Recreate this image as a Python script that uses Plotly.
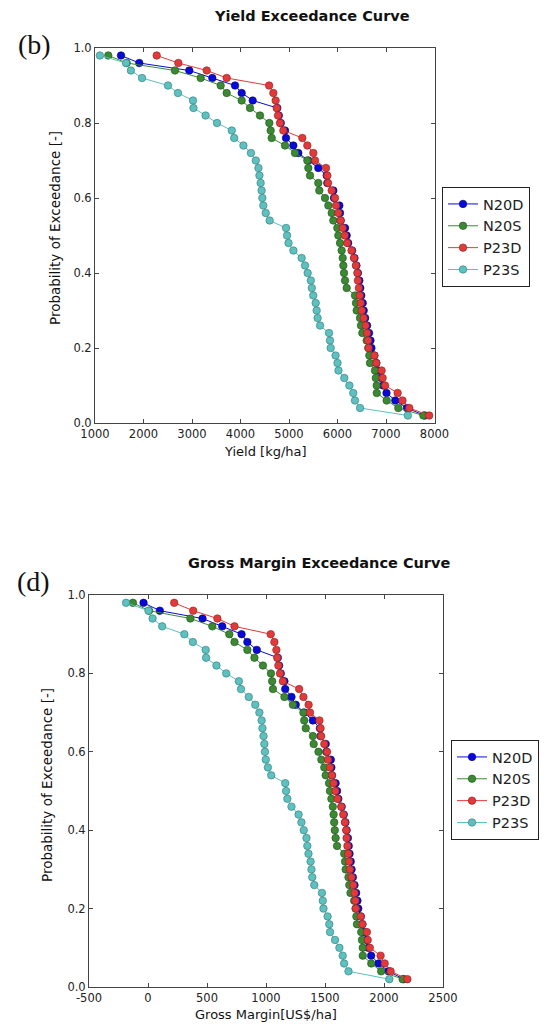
import plotly.graph_objects as go

# Probability of exceedance (0.98 -> 0.02)
prob = [round(0.98 - 0.02 * i, 2) for i in range(49)]

series_names = ["N20D", "N20S", "P23D", "P23S"]

yield_N20D = [1536, 1913, 2944, 3419, 3887, 4024, 4252, 4759, 4790, 4830,
              4918, 4938, 5089, 5192, 5398, 5604, 5777, 5790, 5914, 5928,
              6038, 6052, 6065, 6155, 6189, 6220, 6300, 6350, 6390, 6420,
              6450, 6470, 6490, 6520, 6540, 6570, 6610, 6650, 6680, 6700,
              6760, 6800, 6840, 6900, 6940, 7010, 7190, 7430, 7800]
yield_N20S = [1274, 1653, 2649, 3179, 3591, 3715, 4024, 4196, 4402, 4594,
              4622, 4643, 4918, 5124, 5378, 5398, 5433, 5604, 5625, 5742,
              5811, 5880, 5914, 5996, 6017, 6052, 6086, 6107, 6120, 6134,
              6155, 6189, 6361, 6381, 6395, 6464, 6485, 6512, 6601, 6635,
              6656, 6670, 6773, 6790, 6808, 6810, 7014, 7254, 7770]
yield_P23D = [2272, 2718, 3303, 3715, 4590, 4677, 4725, 4746, 4773, 4814,
              4883, 5275, 5378, 5502, 5536, 5763, 5790, 5804, 5880, 5948,
              5969, 6017, 6065, 6107, 6150, 6200, 6290, 6340, 6380, 6410,
              6420, 6440, 6460, 6480, 6500, 6540, 6580, 6610, 6630, 6640,
              6760, 6800, 6910, 6930, 6980, 7240, 7340, 7480, 7890]
yield_P23S = [1100, 1640, 1740, 1970, 2505, 2710, 3020, 3030, 3280, 3515,
              3820, 3870, 4060, 4215, 4315, 4370, 4390, 4415, 4435, 4450,
              4470, 4520, 4600, 4940, 4960, 4990, 5090, 5260, 5330, 5385,
              5450, 5470, 5500, 5550, 5570, 5590, 5640, 5825, 5845, 5860,
              5960, 6000, 6020, 6140, 6245, 6325, 6360, 6465, 7450]

gm_N20D = [-38, 100, 462, 629, 793, 842, 922, 1100, 1111, 1125,
           1156, 1163, 1216, 1252, 1324, 1397, 1457, 1462, 1506, 1511,
           1549, 1554, 1559, 1590, 1602, 1613, 1641, 1659, 1673, 1683,
           1694, 1701, 1708, 1718, 1725, 1736, 1750, 1764, 1775, 1782,
           1803, 1817, 1831, 1852, 1866, 1891, 1954, 2038, 2168]
gm_N20S = [-128, 9, 359, 545, 689, 733, 842, 902, 974, 1042,
           1052, 1059, 1156, 1228, 1317, 1324, 1337, 1397, 1404, 1445,
           1469, 1494, 1506, 1534, 1542, 1554, 1566, 1573, 1578, 1583,
           1590, 1602, 1663, 1670, 1675, 1699, 1706, 1716, 1747, 1759,
           1766, 1771, 1807, 1813, 1820, 1820, 1892, 1976, 2158]
gm_P23D = [222, 383, 588, 733, 1040, 1071, 1088, 1095, 1105, 1119,
           1143, 1281, 1317, 1361, 1373, 1453, 1462, 1467, 1494, 1517,
           1525, 1542, 1559, 1573, 1588, 1606, 1638, 1655, 1669, 1680,
           1683, 1690, 1697, 1704, 1711, 1725, 1740, 1750, 1757, 1761,
           1803, 1817, 1855, 1862, 1880, 1971, 2006, 2056, 2198]
gm_P23S = [-186, 4, 39, 120, 308, 380, 489, 492, 580, 663,
           770, 788, 854, 909, 944, 963, 970, 979, 986, 991,
           998, 1016, 1044, 1163, 1170, 1181, 1216, 1276, 1300, 1320,
           1343, 1350, 1360, 1378, 1385, 1392, 1409, 1474, 1481, 1487,
           1522, 1536, 1543, 1585, 1622, 1650, 1662, 1699, 2045]

yield_ticks = [1000, 2000, 3000, 4000, 5000, 6000, 7000, 8000]
yield_ticktext = ["1000", "2000", "3000", "4000", "5000", "6000", "7000", "8000"]
gm_ticks = [-500, 0, 500, 1000, 1500, 2000, 2500]
gm_ticktext = ["-500", "0", "500", "1000", "1500", "2000", "2500"]
prob_ticks = [0.0, 0.2, 0.4, 0.6, 0.8, 1.0]
prob_ticktext = ["0.0", "0.2", "0.4", "0.6", "0.8", "1.0"]

colors = {"N20D": "#0a0ad8", "N20S": "#3b8a33", "P23D": "#e23a3a", "P23S": "#5ec0bf"}
edges = {"N20D": "#00007a", "N20S": "#1f4f1c", "P23D": "#8f1f1f", "P23S": "#2b7a78"}

W, H = 555, 1030
FONT = "DejaVu Sans"

fig = go.Figure()

top_data = [yield_N20D, yield_N20S, yield_P23D, yield_P23S]
bot_data = [gm_N20D, gm_N20S, gm_P23D, gm_P23S]

for name, xs in zip(series_names, top_data):
    fig.add_trace(go.Scatter(
        x=xs, y=prob, name=name, mode="lines+markers", cliponaxis=False,
        line=dict(color=colors[name], width=1),
        marker=dict(size=7.5, color=colors[name], line=dict(color=edges[name], width=0.6)),
        xaxis="x", yaxis="y", legend="legend"))

for name, xs in zip(series_names, bot_data):
    fig.add_trace(go.Scatter(
        x=xs, y=prob, name=name, mode="lines+markers", cliponaxis=False,
        line=dict(color=colors[name], width=1),
        marker=dict(size=7.5, color=colors[name], line=dict(color=edges[name], width=0.6)),
        xaxis="x2", yaxis="y2", legend="legend2"))

def px_x(p):
    return p / W

def px_y(p):
    return 1 - p / H

axis_common = dict(showline=True, linecolor="#444444", linewidth=1, mirror="ticks",
                   ticks="inside", ticklen=4, tickcolor="#444444", showgrid=False,
                   zeroline=False, automargin=False,
                   tickfont=dict(family=FONT, size=11.5, color="#222222"))

legend_common = dict(xanchor="left", yanchor="top",
                     bordercolor="#222222", borderwidth=1, bgcolor="white",
                     font=dict(family=FONT, size=14.5, color="#222222"),
                     itemwidth=30, tracegroupgap=0)

fig.update_layout(
    width=W, height=H,
    margin=dict(l=0, r=0, t=0, b=0, pad=0, autoexpand=False),
    paper_bgcolor="white", plot_bgcolor="white",
    font=dict(family=FONT, color="#222222"),
    xaxis=dict(domain=[px_x(95), px_x(434.5)], range=[1000, 8000],
               tickvals=yield_ticks, ticktext=yield_ticktext, anchor="y", **axis_common),
    yaxis=dict(domain=[px_y(423), px_y(48)], range=[0, 1],
               tickvals=prob_ticks, ticktext=prob_ticktext, anchor="x", **axis_common),
    xaxis2=dict(domain=[px_x(89), px_x(443)], range=[-500, 2500],
                tickvals=gm_ticks, ticktext=gm_ticktext, anchor="y2", **axis_common),
    yaxis2=dict(domain=[px_y(987), px_y(595)], range=[0, 1],
                tickvals=prob_ticks, ticktext=prob_ticktext, anchor="x2", **axis_common),
    legend=dict(x=px_x(442), y=px_y(187), **legend_common),
    legend2=dict(x=px_x(451), y=px_y(740), **legend_common),
    showlegend=True,
)

annots = [
    dict(text="<b>Yield Exceedance Curve</b>", x=px_x(312), y=px_y(16), size=14.5, fam=FONT, angle=0),
    dict(text="<b>Gross Margin Exceedance Curve</b>", x=px_x(319), y=px_y(563), size=14.5, fam=FONT, angle=0),
    dict(text="(b)", x=px_x(34), y=px_y(45), size=28, fam="Liberation Serif", angle=0),
    dict(text="(d)", x=px_x(33), y=px_y(581), size=28, fam="Liberation Serif", angle=0),
    dict(text="Yield [kg/ha]", x=px_x(265), y=px_y(451), size=13, fam=FONT, angle=0),
    dict(text="Gross Margin[US$/ha]", x=px_x(266), y=px_y(1014), size=13, fam=FONT, angle=0),
    dict(text="Probability of Exceedance [-]", x=px_x(55), y=px_y(228), size=13.5, fam=FONT, angle=-90),
    dict(text="Probability of Exceedance [-]", x=px_x(47), y=px_y(785), size=13.5, fam=FONT, angle=-90),
]
for a in annots:
    fig.add_annotation(text=a["text"], x=a["x"], y=a["y"], xref="paper", yref="paper",
                       showarrow=False, xanchor="center", yanchor="middle", textangle=a["angle"],
                       font=dict(family=a["fam"], size=a["size"], color="#111111"))

fig.write_html("out.html", config={"displayModeBar": False},
               post_script="document.body.style.margin='0px'; document.body.style.padding='0px';")
